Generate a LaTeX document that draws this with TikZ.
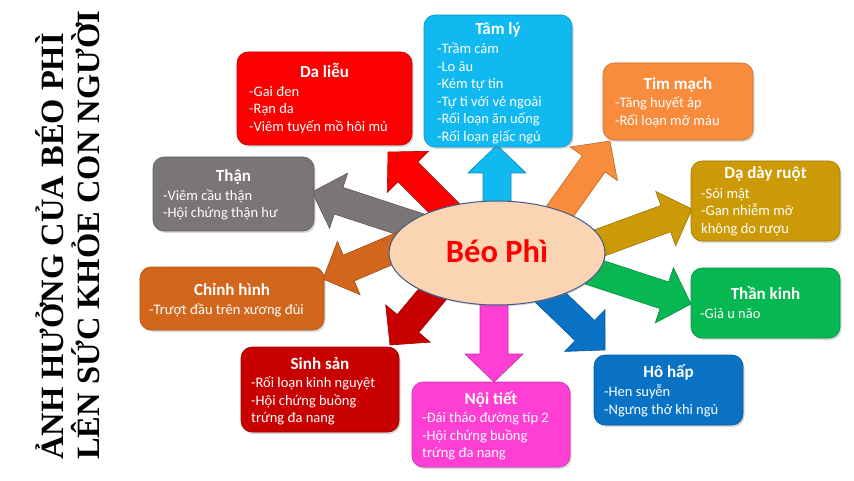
\documentclass[tikz,border=0pt]{standalone}
\usepackage{fontspec}
\setmainfont{Carlito}
\newfontfamily\tnr{Liberation Serif}
\usetikzlibrary{calc,shadows,shapes.geometric}
\definecolor{cyanc}{HTML}{10B9F0}
\definecolor{redc}{HTML}{FA0000}
\definecolor{orangec}{HTML}{F98B3C}
\definecolor{goldc}{HTML}{CC9A06}
\definecolor{grayc}{HTML}{7B7675}
\definecolor{burntc}{HTML}{D2661C}
\definecolor{greenc}{HTML}{07B852}
\definecolor{bluec}{HTML}{0A72C4}
\definecolor{darkredc}{HTML}{C80000}
\definecolor{magc}{HTML}{FF3ED4}
\definecolor{peachc}{HTML}{FBD4B4}
\definecolor{ellbord}{HTML}{3E5C88}
\tikzset{
 boxst/.style={rectangle, rounded corners=11pt, inner sep=0pt, line width=0.6pt,
   drop shadow={shadow xshift=1.5pt, shadow yshift=-2pt, opacity=0.3}},
 ttl/.style={anchor=base, inner sep=0pt, text=white, font=\fontsize{17}{20}\selectfont\bfseries},
 itm/.style={anchor=base west, inner sep=0pt, text=white, font=\fontsize{14.5}{17.5}\selectfont},
 vtitle/.style={rotate=90, anchor=base west, inner sep=0pt, font=\tnr\bfseries\fontsize{32.5}{36}\selectfont},
}
\newcommand\blockarr[3]{%
 \coordinate (bb) at ($(#3)!28pt!(#2)$);
 \filldraw[fill=#1, draw=#1!75!black, line width=0.6pt, line join=miter]
  ($(#2)!14pt!90:(#3)$) -- ($(bb)!14pt!90:(#3)$) -- ($(bb)!29pt!90:(#3)$) -- (#3)
  -- ($(bb)!29pt!-90:(#3)$) -- ($(bb)!14pt!-90:(#3)$) -- ($(#2)!14pt!-90:(#3)$) -- cycle;}
\newcommand\mybox[6]{%
 \node[boxst, fill=#2, draw=#2!80!black, minimum width={(#5)-(#3)}, minimum height={(#6)-(#4)}]
  (#1) at ({((#3)+(#5))/2},{((#4)+(#6))/2}) {};}
\newcommand\itemlist[4]{%
 \foreach \t [count=\i] in {#4} {\node[itm] (#1-\i) at (#2,{#3+17.5*(\i-1)}) {\t};}}
\begin{document}
\begin{tikzpicture}[x=1pt,y=-1pt]
\useasboundingbox (0,0) rectangle (854,481);
\fill[white] (0,0) rectangle (854,481);
\coordinate (c) at (497,253);
% arrow start and tip points
\coordinate (s-than) at (440,234); \coordinate (t-than) at (312,192);
\coordinate (s-chinh) at (450,225); \coordinate (t-chinh) at (323,279);
\coordinate (s-dalieu) at (479,243); \coordinate (t-dalieu) at (388,152);
\coordinate (s-sinhsan) at (472,247); \coordinate (t-sinhsan) at (390,345);
\coordinate (s-tamly) at (497,253); \coordinate (t-tamly) at (497,145);
\coordinate (s-noitiet) at (494,253); \coordinate (t-noitiet) at (494,382);
\coordinate (s-timmach) at (536,245); \coordinate (t-timmach) at (610,141);
\coordinate (s-daday) at (520,272); \coordinate (t-daday) at (692,209);
\coordinate (s-thankinh) at (520,248); \coordinate (t-thankinh) at (691,304);
\coordinate (s-hohap) at (520,268); \coordinate (t-hohap) at (605,350);
% arrows
\blockarr{grayc}{s-than}{t-than}
\blockarr{burntc}{s-chinh}{t-chinh}
\blockarr{redc}{s-dalieu}{t-dalieu}
\blockarr{darkredc}{s-sinhsan}{t-sinhsan}
\blockarr{cyanc}{s-tamly}{t-tamly}
\blockarr{magc}{s-noitiet}{t-noitiet}
\blockarr{orangec}{s-timmach}{t-timmach}
\blockarr{greenc}{s-thankinh}{t-thankinh}
\blockarr{goldc}{s-daday}{t-daday}
\blockarr{bluec}{s-hohap}{t-hohap}
% boxes
\mybox{tamly}{cyanc}{424}{15}{572}{147}
\mybox{dalieu}{redc}{237}{52}{412}{145}
\mybox{timmach}{orangec}{603}{63}{753}{140}
\mybox{daday}{goldc}{691}{161}{840}{241}
\mybox{than}{grayc}{153}{157}{314}{231}
\mybox{chinh}{burntc}{140}{267}{324}{330}
\mybox{thankinh}{greenc}{691}{268}{840}{338}
\mybox{hohap}{bluec}{594}{355}{743}{425}
\mybox{sinhsan}{darkredc}{241}{347}{399}{432}
\mybox{noitiet}{magc}{412}{382}{570}{467}
% centre
\node[ellipse, fill=peachc, draw=ellbord, line width=1pt, minimum width=216pt, minimum height=104pt, inner sep=0pt,
  drop shadow={shadow xshift=1pt, shadow yshift=-1.5pt, opacity=0.25}] (beo) at (c) {};
\node[anchor=base, inner sep=0pt, text=red, font=\fontsize{32.5}{36}\selectfont\bfseries] (beo-t) at (497,262.7) {Béo Phì};
% titles
\node[ttl] (tamly-t) at (498,35) {Tâm lý};
\node[ttl] (dalieu-t) at (324.5,77.5) {Da liễu};
\node[ttl] (timmach-t) at (678,89.5) {Tim mạch};
\node[ttl] (daday-t) at (765.5,179) {Dạ dày ruột};
\node[ttl] (than-t) at (233.5,181.5) {Thận};
\node[ttl] (chinh-t) at (232,295.5) {Chỉnh hình};
\node[ttl] (thankinh-t) at (765.5,299.5) {Thần kinh};
\node[ttl] (hohap-t) at (668.5,377.5) {Hô hấp};
\node[ttl] (sinhsan-t) at (320,369) {Sinh sản};
\node[ttl] (noitiet-t) at (491,404) {Nội tiết};
% items
\itemlist{tamly}{437}{54}{-Trầm cảm,-Lo âu,-Kém tự tin,-Tự ti với vẻ ngoài,-Rối loạn ăn uống,-Rối loạn giấc ngủ}
\itemlist{dalieu}{249}{96.5}{-Gai đen,-Rạn da,-Viêm tuyến mồ hôi mủ}
\itemlist{timmach}{615}{108}{-Tăng huyết áp,-Rối loạn mỡ máu}
\itemlist{daday}{701}{198.5}{-Sỏi mật,-Gan nhiễm mỡ,không do rượu}
\itemlist{than}{163}{200.5}{-Viêm cầu thận,-Hội chứng thận hư}
\itemlist{chinh}{149}{314}{-Trượt đầu trên xương đùi}
\itemlist{thankinh}{700}{318}{-Giả u não}
\itemlist{hohap}{604}{396.5}{-Hen suyễn,-Ngưng thở khi ngủ}
\itemlist{sinhsan}{251}{387.5}{-Rối loạn kinh nguyệt,-Hội chứng buồng,trứng đa nang}
\itemlist{noitiet}{422}{422.5}{-Đái tháo đường típ 2,-Hội chứng buồng,trứng đa nang}
% vertical title
\node[vtitle] (title1) at (63,460) {ẢNH HƯỞNG CỦA BÉO PHÌ};
\node[vtitle] (title2) at (99,460) {LÊN SỨC KHỎE CON NGƯỜI};
\end{tikzpicture}
\end{document}
